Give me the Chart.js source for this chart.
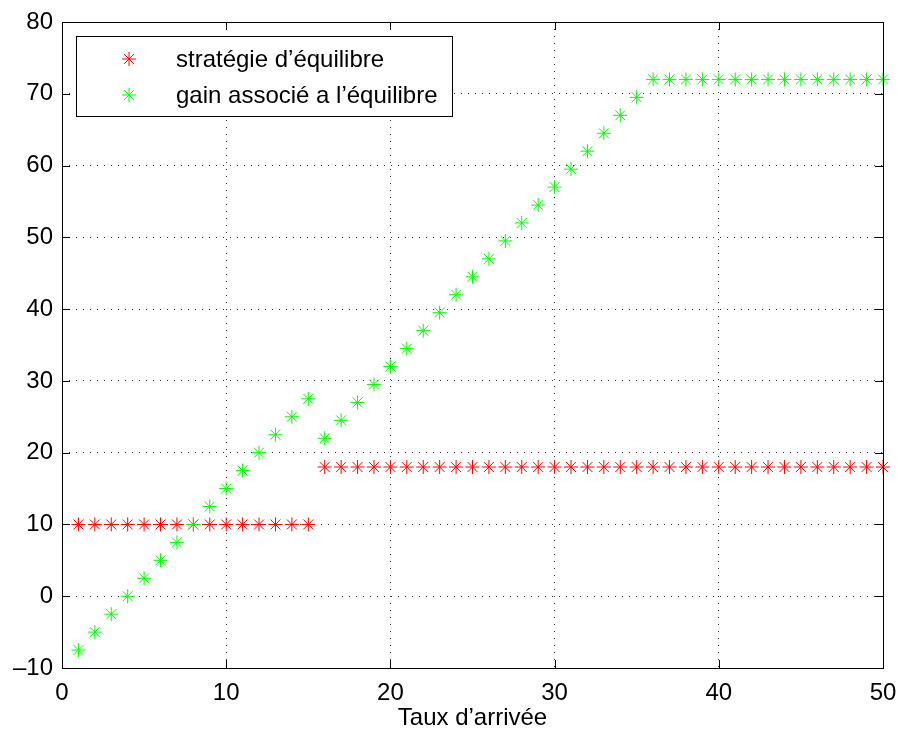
<!DOCTYPE html>
<html lang="fr">
<head>
  <meta charset="UTF-8">
  <title>Stratégie d'équilibre</title>
  <script src="https://cdn.jsdelivr.net/npm/chart.js"></script>
  <style>
    html, body {
      margin: 0;
      padding: 0;
      background: #fff;
    }
    #wrap {
      width: 898px;
      height: 731px;
    }
  </style>
</head>
<body>
  <div id="wrap"><canvas id="eq"></canvas></div>

  <script>
    const arrivalRate = [1, 2, 3, 4, 5, 6, 7, 8, 9, 10, 11, 12, 13, 14, 15, 16, 17, 18, 19, 20,
      21, 22, 23, 24, 25, 26, 27, 28, 29, 30, 31, 32, 33, 34, 35, 36, 37, 38, 39, 40,
      41, 42, 43, 44, 45, 46, 47, 48, 49, 50];
    const strategy = [10, 10, 10, 10, 10, 10, 10, 10, 10, 10, 10, 10, 10, 10, 10, 18, 18, 18, 18, 18,
      18, 18, 18, 18, 18, 18, 18, 18, 18, 18, 18, 18, 18, 18, 18, 18, 18, 18, 18, 18,
      18, 18, 18, 18, 18, 18, 18, 18, 18, 18];
    const gain = [-7.5, -5, -2.5, 0, 2.5, 5, 7.5, 10, 12.5, 15, 17.5, 20, 22.5, 25, 27.5, 22, 24.5, 27, 29.5, 32,
      34.5, 37, 39.5, 42, 44.5, 47, 49.5, 52, 54.5, 57, 59.5, 62, 64.5, 67, 69.5, 72, 72, 72, 72, 72,
      72, 72, 72, 72, 72, 72, 72, 72, 72, 72];
    const xTicks = [0, 10, 20, 30, 40, 50];
    const yTicks = [-10, 0, 10, 20, 30, 40, 50, 60, 70, 80];
    const seriesNames = ["stratégie d’équilibre", "gain associé a l’équilibre"];
    const seriesColors = ["#ff0000", "#00ff00"];

    const FONT = "'Liberation Sans', Arial, sans-serif";
    const FSIZE = 24;

    const toPoints = ys => arrivalRate.map((x, i) => ({ x: x, y: ys[i] }));

    // box, inward ticks and the legend drawn inside the plot, like matlab
    const matlabFrame = {
      id: "matlabFrame",
      afterDraw(chart) {
        const ctx = chart.ctx;
        const a = chart.chartArea;
        const xs = chart.scales.x, ys = chart.scales.y;
        ctx.save();
        ctx.strokeStyle = "#000";
        ctx.lineWidth = 1;
        ctx.strokeRect(Math.round(a.left) + 0.5, Math.round(a.top) + 0.5,
          Math.round(a.right - a.left), Math.round(a.bottom - a.top));
        ctx.beginPath();
        xTicks.forEach(v => {
          const px = Math.round(xs.getPixelForValue(v)) + 0.5;
          ctx.moveTo(px, a.bottom); ctx.lineTo(px, a.bottom - 8);
          ctx.moveTo(px, a.top); ctx.lineTo(px, a.top + 8);
        });
        yTicks.forEach(v => {
          const py = Math.round(ys.getPixelForValue(v)) + 0.5;
          ctx.moveTo(a.left, py); ctx.lineTo(a.left + 8, py);
          ctx.moveTo(a.right, py); ctx.lineTo(a.right - 8, py);
        });
        ctx.stroke();

        // legend
        const lx = 76, ly = 36, lw = 376, lh = 80;
        ctx.fillStyle = "#fff";
        ctx.fillRect(lx, ly, lw, lh);
        ctx.strokeRect(lx + 0.5, ly + 0.5, lw, lh);
        ctx.font = FSIZE + "px " + FONT;
        ctx.textBaseline = "middle";
        ctx.textAlign = "left";
        seriesNames.forEach((name, i) => {
          const rowY = ly + 23 + i * 36;
          ctx.strokeStyle = seriesColors[i];
          Chart.helpers.drawPoint(ctx, { pointStyle: "star", radius: 7, borderWidth: 1 }, lx + 53, rowY);
          ctx.fillStyle = "#000";
          ctx.fillText(name, lx + 100, rowY + 1);
        });
        ctx.restore();
      }
    };

    new Chart(document.getElementById("eq"), {
      type: "scatter",
      data: {
        datasets: [
          {
            label: seriesNames[0],
            data: toPoints(strategy),
            pointStyle: "star",
            pointRadius: 7,
            pointBorderWidth: 1,
            borderColor: seriesColors[0],
            backgroundColor: seriesColors[0],
            order: 1,
            clip: false
          },
          {
            label: seriesNames[1],
            data: toPoints(gain),
            pointStyle: "star",
            pointRadius: 7,
            pointBorderWidth: 1,
            borderColor: seriesColors[1],
            backgroundColor: seriesColors[1],
            order: 0,
            clip: false
          }
        ]
      },
      options: {
        responsive: true,
        maintainAspectRatio: false,
        animation: false,
        layout: { padding: { top: 22, right: 15, left: 0, bottom: 0 } },
        plugins: {
          legend: { display: false },
          tooltip: { enabled: false }
        },
        scales: {
          x: {
            type: "linear",
            min: 0,
            max: 50,
            afterBuildTicks: s => { s.ticks = xTicks.map(v => ({ value: v })); },
            afterFit: s => {
              s.height = 63;
              s.paddingLeft = 0;
              s.paddingRight = 0;
            },
            ticks: {
              color: "#000",
              font: { family: FONT, size: FSIZE },
              padding: 11
            },
            grid: {
              color: "#333",
              lineWidth: 1,
              drawTicks: false,
              tickLength: 0
            },
            border: { display: false, dash: [1, 6] },
            title: {
              display: true,
              text: "Taux d’arrivée",
              color: "#000",
              font: { family: FONT, size: FSIZE, lineHeight: 1.05 },
              padding: { top: 0, bottom: 0 }
            }
          },
          y: {
            type: "linear",
            min: -10,
            max: 80,
            afterBuildTicks: s => { s.ticks = yTicks.map(v => ({ value: v })); },
            afterFit: s => {
              s.width = 62;
              s.paddingTop = 0;
              s.paddingBottom = 0;
            },
            ticks: {
              color: "#000",
              font: { family: FONT, size: FSIZE },
              padding: 9,
              callback: v => String(v).replace("-", "–")
            },
            grid: {
              color: "#333",
              lineWidth: 1,
              drawTicks: false,
              tickLength: 0
            },
            border: { display: false, dash: [1, 6] }
          }
        }
      },
      plugins: [matlabFrame]
    });
  </script>
</body>
</html>
